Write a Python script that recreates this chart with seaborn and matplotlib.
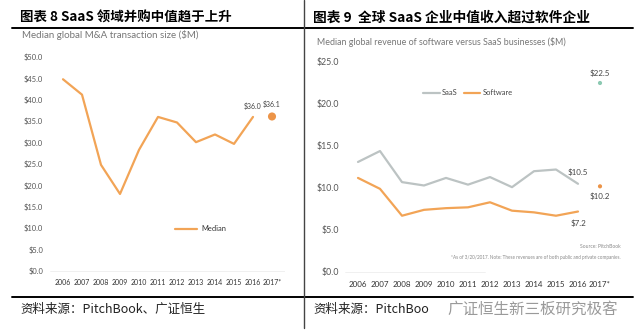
import numpy as np
import pandas as pd
import matplotlib
matplotlib.use("Agg")
import matplotlib.pyplot as plt
import seaborn as sns
from matplotlib.lines import Line2D

# ---------------- data ----------------
years = ["2006", "2007", "2008", "2009", "2010", "2011",
         "2012", "2013", "2014", "2015", "2016", "2017*"]
ma_median = [44.8, 41.2, 24.8, 18.0, 28.3, 36.0, 34.7, 30.1, 31.9, 29.7, 36.0]
ma_2017 = 36.1
saas = [13.1, 14.4, 10.7, 10.3, 11.2, 10.4, 11.3, 10.1, 12.0, 12.2, 10.5]
saas_2017 = 22.5
software = [11.2, 9.9, 6.7, 7.4, 7.6, 7.7, 8.3, 7.3, 7.1, 6.7, 7.2]
software_2017 = 10.2
left_yticks = [0, 5, 10, 15, 20, 25, 30, 35, 40, 45, 50]
right_yticks = [0, 5, 10, 15, 20, 25]

left_title = "图表 8 SaaS 领域并购中值趋于上升"
right_title = "图表 9  全球 SaaS 企业中值收入超过软件企业"
left_sub = "Median global M&A transaction size ($M)"
right_sub = "Median global revenue of software versus SaaS businesses ($M)"
source_text = "资料来源：PitchBook、广证恒生"
source_text_r = "资料来源：PitchBoo"
watermark = "广证恒生新三板研究极客"
foot1 = "Source: PitchBook"
foot2 = "*As of 3/20/2017. Note: These revenues are of both public and private companies."

sns.set_theme(style="white")
plt.rcParams['font.family'] = ['Lato', 'Noto Sans CJK SC', 'DejaVu Sans']

W, H = 640, 336
fig = plt.figure(figsize=(6.4, 3.36), dpi=100)
fig.patch.set_facecolor("white")

def fx(px):
    return px / W

def fy(py):
    return 1 - py / H

ORANGE = "#F2A456"
ORANGE_DOT = "#EC9448"
GRAY = "#BCC3C3"
TEAL = "#8CC9B2"
TXT = "#555555"

n = len(years)
idx = np.arange(n)

# ---------------- left chart ----------------
axL = fig.add_axes([fx(50), fy(276), fx(235), (276 - 50) / H])
dfL = pd.DataFrame({"x": idx[:len(ma_median)], "Median": ma_median})
sns.lineplot(data=dfL, x="x", y="Median", ax=axL, color=ORANGE, lw=1.6, label="Median")
sns.scatterplot(x=[idx[-1]], y=[ma_2017], ax=axL, color=ORANGE_DOT, s=34, edgecolor="none", legend=False)
axL.set_xlim(-13 / 19, 11 + 13 / 19)
axL.set_ylim(-5 / 4.28, 50 + 7 / 4.28)
axL.set_yticks(left_yticks)
axL.set_yticklabels([f"${v:.1f}" for v in left_yticks], fontsize=5.4, color=TXT)
axL.set_xticks(idx)
axL.set_xticklabels(years, fontsize=5.0, color="#333333")
axL.tick_params(axis="y", pad=5, length=0)
axL.tick_params(axis="x", pad=2, length=0)
axL.set_xlabel("")
axL.set_ylabel("")
for s in axL.spines.values():
    s.set_visible(False)
axL.axhline(0, color="#EEEEEE", lw=0.6, zorder=0)
axL.text(10, ma_median[-1] + 1.6, f"${ma_median[-1]:.1f}", fontsize=5.0, color="#444444", ha="center", va="bottom")
axL.text(11, ma_2017 + 1.9, f"${ma_2017:.1f}", fontsize=5.0, color="#444444", ha="center", va="bottom")
leg = axL.legend(loc="center", bbox_to_anchor=(0.64, 0.208), frameon=False,
                 fontsize=5.4, handlelength=3.0, handletextpad=0.5)
for t in leg.get_texts():
    t.set_color("#333333")

# ---------------- right chart ----------------
axR = fig.add_axes([fx(345), fy(278), fx(280), (278 - 55) / H])
dfR = pd.DataFrame({
    "x": np.concatenate([idx[:len(saas)], idx[:len(software)]]),
    "value": saas + software,
    "series": ["SaaS"] * len(saas) + ["Software"] * len(software),
})
sns.lineplot(data=dfR, x="x", y="value", hue="series", ax=axR,
             palette={"SaaS": GRAY, "Software": ORANGE}, lw=1.6)
sns.scatterplot(x=[idx[-1]], y=[saas_2017], ax=axR, color=TEAL, s=9, edgecolor="none", legend=False)
sns.scatterplot(x=[idx[-1]], y=[software_2017], ax=axR, color=ORANGE_DOT, s=9, edgecolor="none", legend=False)
axR.set_xlim(-13 / 22, 11 + 25 / 22)
axR.set_ylim(-6 / 8.4, 25 + 7 / 8.4)
axR.set_yticks(right_yticks)
axR.set_yticklabels([f"${v:.1f}" for v in right_yticks], fontsize=6.3, color=TXT)
axR.set_xticks(idx)
axR.set_xticklabels(years, fontsize=5.8, color="#333333")
axR.tick_params(axis="y", pad=4, length=0)
axR.tick_params(axis="x", pad=2.5, length=0)
axR.set_xlabel("")
axR.set_ylabel("")
for s in axR.spines.values():
    s.set_visible(False)
axR.axhline(0, color="#EEEEEE", lw=0.6, zorder=0, xmax=0.5)
axR.text(10, saas[-1] + 0.9, f"${saas[-1]:.1f}", fontsize=5.8, color="#444444", ha="center", va="bottom")
axR.text(10, software[-1] - 0.9, f"${software[-1]:.1f}", fontsize=5.8, color="#444444", ha="center", va="top")
axR.text(11, saas_2017 + 0.7, f"${saas_2017:.1f}", fontsize=5.8, color="#444444", ha="center", va="bottom")
axR.text(11, software_2017 - 0.7, f"${software_2017:.1f}", fontsize=5.8, color="#444444", ha="center", va="top")
h, l = axR.get_legend_handles_labels()
legR = axR.legend(h, l, loc="center", bbox_to_anchor=(0.44, 0.83), frameon=False,
                  ncol=2, fontsize=5.4, handlelength=2.2, handletextpad=0.3, columnspacing=0.8)
for t in legR.get_texts():
    t.set_color("#444444")
fig.text(fx(621), fy(247), foot1, fontsize=3.6, color="#888888", ha="right", va="center")
fig.text(fx(621), fy(258), foot2, fontsize=3.3, color="#888888", ha="right", va="center")

# ---------------- frame, titles, sources ----------------
CJK = ['Noto Sans CJK SC', 'DejaVu Sans']
fig.text(fx(20), fy(18), left_title, fontsize=9.7, fontweight="bold", family=CJK, ha="left", va="center", color="black")
fig.text(fx(313), fy(18), right_title, fontsize=9.9, fontweight="bold", family=CJK, ha="left", va="center", color="black")
fig.text(fx(22), fy(35), left_sub, fontsize=7.0, color="#777777", ha="left", va="center")
fig.text(fx(317), fy(42), right_sub, fontsize=6.4, color="#777777", ha="left", va="center")
fig.text(fx(20), fy(309), source_text, fontsize=9.0, family=CJK, ha="left", va="center", color="#222222")
fig.text(fx(313), fy(309), source_text_r, fontsize=9.0, family=CJK, ha="left", va="center", color="#222222")
fig.text(fx(447), fy(309), watermark, fontsize=11.2, family=CJK, ha="left", va="center", color="#9A9A9A")

fig.add_artist(Line2D([fx(12), fx(633)], [fy(28), fy(28)], color="black", lw=1.4))
fig.add_artist(Line2D([fx(12), fx(633)], [fy(297), fy(297)], color="black", lw=1.4))
fig.add_artist(Line2D([fx(304), fx(304)], [fy(0), fy(328)], color="#444444", lw=1.0))

fig.savefig("out.png", dpi=100, facecolor="white")
